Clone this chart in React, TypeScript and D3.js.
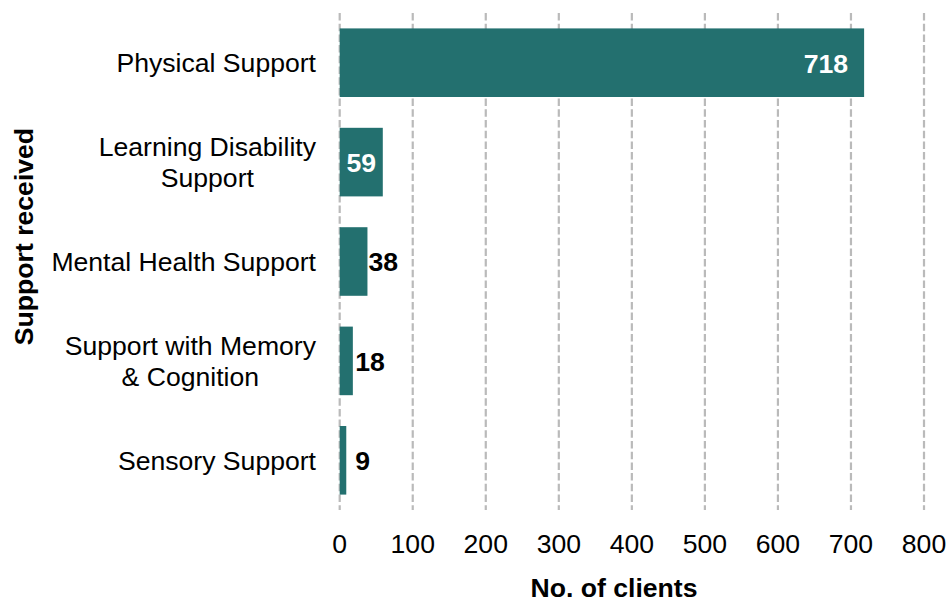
import React from "react";
import * as d3 from "d3";

const categories = [
  "Physical Support",
  "Learning Disability\nSupport",
  "Mental Health Support",
  "Support with Memory\n& Cognition",
  "Sensory Support",
];
const clients = [718, 59, 38, 18, 9];
const xTicks = [0, 100, 200, 300, 400, 500, 600, 700, 800];
const xTitle = "No. of clients";
const yTitle = "Support received";

const W = 949;
const H = 602;
const FONT = "'Liberation Sans', Arial, sans-serif";
const FS = 26.6;
const BAR = "#23706f";

let ctx: CanvasRenderingContext2D | null = null;
function textWidth(s: string, weight = "normal") {
  if (!ctx) ctx = document.createElement("canvas").getContext("2d");
  if (!ctx) return s.length * FS * 0.5;
  ctx.font = `${weight} ${FS}px ${FONT}`;
  return ctx.measureText(s).width;
}

export default function App() {
  const x = d3.scaleLinear().domain([0, 800]).range([339.7, 924]);
  const y = d3
    .scaleBand<string>()
    .domain(categories)
    .range([13, 510])
    .paddingInner(0.31)
    .paddingOuter(0.155);
  const bw = y.bandwidth();
  const labelRight = 316;
  const lineH = 31;

  return (
    <svg
      width={W}
      height={H}
      viewBox={`0 0 ${W} ${H}`}
      style={{ position: "absolute", left: 0, top: 0, background: "#fff" }}
      fontFamily={FONT}
    >
      <g>
        {xTicks.map((t) => (
          <line
            key={t}
            x1={x(t)}
            x2={x(t)}
            y1={13}
            y2={510}
            stroke="#bababa"
            strokeWidth={2.2}
            strokeDasharray="7.5,3.2"
          />
        ))}
      </g>
      <g>
        {categories.map((c, i) => (
          <rect
            key={c}
            x={x(0)}
            y={y(c)}
            width={x(clients[i]) - x(0)}
            height={bw}
            fill={BAR}
          />
        ))}
      </g>
      <g fontSize={FS} fontWeight="bold">
        {categories.map((c, i) => {
          const v = clients[i];
          const cy = (y(c) as number) + bw / 2;
          const wpx = x(v) - x(0);
          if (v > 50) {
            if (wpx > 100) {
              return (
                <text key={c} x={x(v) - 16} y={cy} dy="0.37em" textAnchor="end" fill="#fff">
                  {v}
                </text>
              );
            }
            return (
              <text key={c} x={x(v / 2)} y={cy} dy="0.37em" textAnchor="middle" fill="#fff">
                {v}
              </text>
            );
          }
          return (
            <text key={c} x={x(Math.max(v, 20)) + 1} y={cy} dy="0.37em" textAnchor="start" fill="#000">
              {v}
            </text>
          );
        })}
      </g>
      <g fontSize={FS} fill="#000">
        {categories.map((c) => {
          const lines = c.split("\n");
          const cy = (y(c) as number) + bw / 2;
          const maxW = Math.max(...lines.map((l) => textWidth(l)));
          const cx = labelRight - maxW / 2;
          return lines.map((l, j) => (
            <text
              key={c + j}
              x={lines.length > 1 ? cx : labelRight}
              y={cy + (j - (lines.length - 1) / 2) * lineH}
              dy="0.36em"
              textAnchor={lines.length > 1 ? "middle" : "end"}
            >
              {l}
            </text>
          ));
        })}
      </g>
      <g fontSize={FS} fill="#000">
        {xTicks.map((t) => (
          <text key={t} x={x(t)} y={552.5} textAnchor="middle">
            {t}
          </text>
        ))}
      </g>
      <text x={614} y={596.5} fontSize={FS} fontWeight="bold" textAnchor="middle" fill="#000">
        {xTitle}
      </text>
      <text
        transform="translate(33.3,236.5) rotate(-90)"
        fontSize={FS}
        fontWeight="bold"
        textAnchor="middle"
        fill="#000"
      >
        {yTitle}
      </text>
    </svg>
  );
}
